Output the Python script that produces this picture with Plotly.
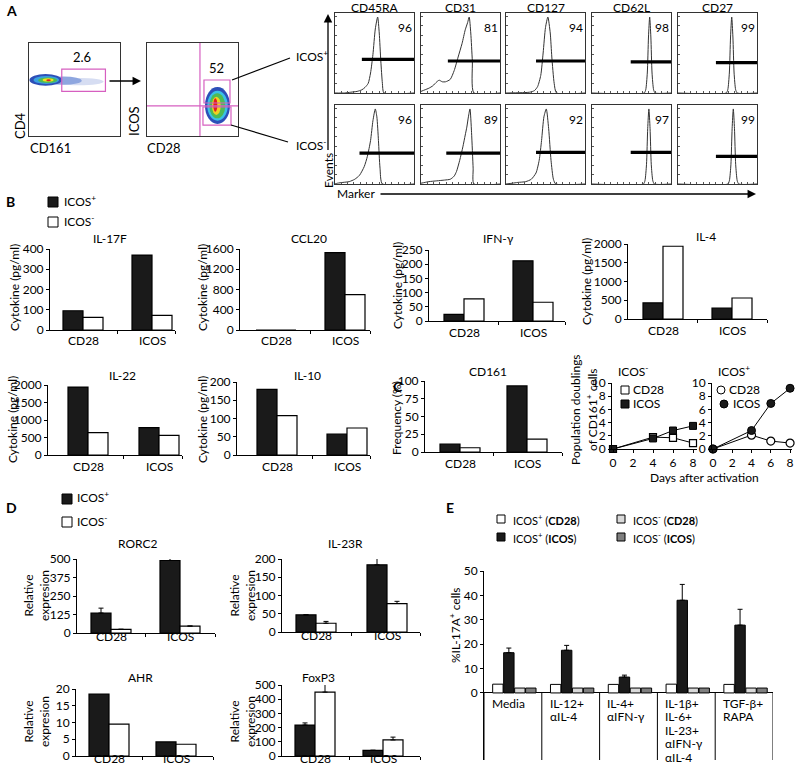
import plotly.graph_objects as go

# ======================= DATA =======================
groups = ["CD28", "ICOS"]

# Panel A: flow histograms (marker name, % positive, gate starts/levels, curve points in % of box)
hist_markers = ["CD45RA", "CD31", "CD127", "CD62L", "CD27"]
hist_pct_pos = [96, 81, 94, 98, 99]
hist_pct_neg = [96, 89, 92, 97, 99]
gate_start_pos = [34, 34, 38, 49, 48]
gate_start_neg = [31, 32, 38, 49, 48]
gate_level_pos = [42, 40, 40, 39, 38]
gate_level_neg = [39, 39, 40, 40, 35]

hist_pos_x = [
    [0, 12, 20, 28, 34, 38, 42, 45, 48, 51, 54, 56, 58, 60, 62, 100],
    [0, 5, 10, 15, 20, 23, 27, 31, 37, 42, 47, 52, 56, 59, 61, 63, 65, 67, 100],
    [0, 30, 36, 40, 44, 47, 50, 53, 56, 58, 61, 64, 100],
    [0, 66, 68, 70, 71.5, 73, 74.5, 76, 78, 80, 100],
    [0, 61, 63, 65, 66.5, 68, 69.5, 71, 73, 75, 100],
]
hist_pos_y = [
    [0, 0, 1, 2, 4, 7, 12, 25, 48, 80, 95, 75, 40, 12, 0, 0],
    [2, 4, 6, 9, 14, 16, 14, 14, 17, 28, 45, 62, 79, 88, 95, 75, 40, 0, 0],
    [0, 1, 3, 8, 22, 50, 82, 95, 75, 45, 12, 0, 0],
    [0, 0, 4, 25, 70, 95, 70, 25, 4, 0, 0],
    [0, 0, 4, 25, 70, 95, 70, 25, 4, 0, 0],
]
hist_neg_x = [
    [0, 3, 10, 18, 25, 31, 37, 41, 45, 48, 51, 53, 55, 57, 60, 100],
    [0, 5, 10, 20, 30, 37, 42, 45, 49, 53, 56, 58, 60, 62, 64, 66, 67, 100],
    [0, 8, 15, 25, 32, 38, 42, 45, 48, 51, 54, 57, 60, 63, 100],
    [0, 65, 67, 69, 70.5, 72, 73.5, 75, 77, 79, 100],
    [0, 63, 65, 67, 68.5, 70, 71.5, 73, 75, 77, 100],
]
hist_neg_y = [
    [0, 1, 2, 3, 6, 11, 22, 35, 55, 80, 95, 85, 55, 20, 0, 0],
    [1, 2, 3, 4, 5, 6, 10, 16, 30, 47, 62, 72, 85, 95, 65, 20, 0, 0],
    [0, 1, 2, 3, 6, 14, 30, 55, 85, 95, 70, 30, 6, 0, 0],
    [0, 0, 4, 25, 70, 95, 70, 25, 4, 0, 0],
    [0, 0, 4, 25, 70, 95, 70, 25, 4, 0, 0],
]

# Flow density layers (data units 0-100): x0, x1, y0, y1, colour
flow1_x0 = [28, 18, 0.5, 5, 10, 15, 19]
flow1_x1 = [82, 58, 36, 33, 31, 27, 24]
flow1_y0 = [54.5, 55, 54, 56, 57, 58.5, 59]
flow1_y1 = [62.5, 64, 66.7, 64.5, 63, 62, 61]
flow1_col = ["#d6ddf2", "#8ea6df", "#2d4fb8", "#3aa0e0", "#4dbb55", "#f0e020", "#e02020"]
flow1_gate = [36, 84, 48, 72]
flow1_pct = "2.6"

flow2_x0 = [63.7, 66.3, 68.5, 71.4, 72.9]
flow2_x1 = [91.2, 88.7, 86.0, 81.0, 77.3]
flow2_y0 = [12.9, 16.5, 19.0, 22.6, 26.2]
flow2_y1 = [52.7, 48.7, 45.9, 42.3, 40.5]
flow2_col = ["#2d4fb8", "#3ac0e8", "#4dbb55", "#f0d020", "#e02020"]
flow2_vline = 58.2
flow2_hline = 32.3
flow2_gate_pos = [62.6, 91.2, 35.5, 60.2]
flow2_gate_neg = [61.5, 92.3, 11.8, 31.2]
flow2_pct = "52"

# Panel B cytokines (ICOS+ black, ICOS- white)
il17f_pos, il17f_neg = [95, 370], [62, 72]
ccl20_pos, ccl20_neg = [0, 1530], [0, 700]
ifng_pos, ifng_neg = [23, 212], [78, 66]
il4_pos, il4_neg = [430, 290], [1940, 560]
il22_pos, il22_neg = [1940, 780], [640, 560]
il10_pos, il10_neg = [180, 57], [108, 74]

# Panel C
cd161_pos, cd161_neg = [11, 93], [6, 18]
days = [0, 4, 6, 8]
dbl_neg_cd28 = [0, 1.8, 1.7, 0.9]
dbl_neg_icos = [0, 1.6, 2.8, 3.5]
dbl_pos_cd28 = [0, 2.1, 1.2, 0.9]
dbl_pos_icos = [0, 2.8, 6.9, 9.2]

# Panel D
rorc2_pos, rorc2_neg = [135, 490], [25, 47]
rorc2_pos_err, rorc2_neg_err = [33, 15], [0, 0]
il23r_pos, il23r_neg = [47, 184], [24, 78]
il23r_pos_err, il23r_neg_err = [0, 25], [5, 6]
ahr_pos, ahr_neg = [18.5, 4.2], [9.5, 3.5]
foxp3_pos, foxp3_neg = [218, 40], [450, 113]
foxp3_pos_err, foxp3_neg_err = [15, 0], [60, 20]

# Panel E
e_conditions = ["Media", "IL-12+<br>αIL-4", "IL-4+<br>αIFN-γ",
                "IL-1β+<br>IL-6+<br>IL-23+<br>αIFN-γ<br>αIL-4", "TGF-β+<br>RAPA"]
e_pos_cd28 = [3.6, 3.5, 3.5, 3.6, 3.5]
e_pos_icos = [16.5, 17.5, 6.5, 38.0, 27.8]
e_pos_icos_err = [1.9, 2.0, 0.8, 6.5, 6.5]
e_neg_cd28 = [2.0, 2.0, 2.0, 2.0, 2.0]
e_neg_icos = [2.0, 2.0, 2.0, 2.0, 2.0]

# ======================= LAYOUT HELPERS =======================
W, H = 800, 775
FONT = "Lato"
BLACK = "#1a1a1a"

def X(px):
    return px / W

def Y(py):
    return 1 - py / H

fig = go.Figure()
axes = {}
annots = []
shapes = []
count = [0]


def new_axes(x0, x1, ytop, ybot, xkw, ykw):
    count[0] += 1
    n = count[0]
    s = "" if n == 1 else str(n)
    xa = dict(domain=[X(x0), X(x1)], anchor="y" + s, automargin=False,
              showgrid=False, zeroline=False, fixedrange=True)
    xa.update(xkw)
    ya = dict(domain=[Y(ybot), Y(ytop)], anchor="x" + s, automargin=False,
              showgrid=False, zeroline=False, fixedrange=True)
    ya.update(ykw)
    axes["xaxis" + s] = xa
    axes["yaxis" + s] = ya
    return "x" + s, "y" + s


def text(px, py, s, size=12, angle=0, xanchor="center", yanchor="middle", bold=False):
    if bold:
        s = "<b>" + s + "</b>"
    annots.append(dict(x=X(px), y=Y(py), xref="paper", yref="paper", text=s,
                       showarrow=False, textangle=angle, xanchor=xanchor, yanchor=yanchor,
                       font=dict(size=size, family=FONT, color="black")))


def pline(x0, y0, x1, y1, width=1.2):
    shapes.append(dict(type="line", xref="paper", yref="paper", x0=X(x0), y0=Y(y0),
                       x1=X(x1), y1=Y(y1), line=dict(color="black", width=width)))


def prect(x0, y0, x1, y1, fill, line="black"):
    shapes.append(dict(type="rect", xref="paper", yref="paper", x0=X(x0), y0=Y(y0),
                       x1=X(x1), y1=Y(y1), fillcolor=fill, line=dict(color=line, width=1)))


def pcircle(cx, cy, r, fill):
    shapes.append(dict(type="circle", xref="paper", yref="paper", x0=X(cx - r), y0=Y(cy + r),
                       x1=X(cx + r), y1=Y(cy - r), fillcolor=fill, line=dict(color="black", width=1)))


def arrow(hx, hy, tx, ty):
    annots.append(dict(x=X(hx), y=Y(hy), xref="paper", yref="paper", ax=tx - hx, ay=ty - hy,
                       axref="pixel", ayref="pixel", text=" ", showarrow=True, arrowhead=2,
                       arrowsize=1.3, arrowwidth=1.3, arrowcolor="black",
                       font=dict(size=1)))


# ======================= PANEL A =======================
text(4, 11, "A", size=14, xanchor="left", bold=True)

box_axis = dict(range=[0, 100], showline=True, mirror=True, linecolor="#333", linewidth=1,
                showticklabels=False, ticks="")

# flow plot 1
fx, fy = new_axes(29, 120, 43, 136, dict(box_axis), dict(box_axis))
for i in range(len(flow1_col)):
    shapes.append(dict(type="circle", xref=fx, yref=fy, x0=flow1_x0[i], x1=flow1_x1[i],
                       y0=flow1_y0[i], y1=flow1_y1[i], fillcolor=flow1_col[i],
                       line=dict(width=0), layer="above"))
shapes.append(dict(type="rect", xref=fx, yref=fy, x0=flow1_gate[0], x1=flow1_gate[1],
                   y0=flow1_gate[2], y1=flow1_gate[3], line=dict(color="#d65fc0", width=1.2),
                   layer="above"))
annots.append(dict(x=(flow1_gate[0] + flow1_gate[1]) / 2 - 2, y=flow1_gate[3] + 2, xref=fx, yref=fy,
                   text=flow1_pct, showarrow=False, yanchor="bottom",
                   font=dict(size=13, family=FONT, color="black")))
text(20, 126, "CD4", size=13, angle=-90)
text(28, 148, "CD161", size=13, xanchor="left")
arrow(141, 81, 108, 81)

# flow plot 2
fx2, fy2 = new_axes(147, 238, 43, 136, dict(box_axis), dict(box_axis))
for i in range(len(flow2_col)):
    shapes.append(dict(type="circle", xref=fx2, yref=fy2, x0=flow2_x0[i], x1=flow2_x1[i],
                       y0=flow2_y0[i], y1=flow2_y1[i], fillcolor=flow2_col[i],
                       line=dict(width=0), layer="above"))
shapes.append(dict(type="line", xref=fx2, yref=fy2, x0=flow2_vline, x1=flow2_vline, y0=0, y1=100,
                   line=dict(color="#d65fc0", width=1.2), layer="above"))
shapes.append(dict(type="line", xref=fx2, yref=fy2, x0=0, x1=100, y0=flow2_hline, y1=flow2_hline,
                   line=dict(color="#d65fc0", width=1.2), layer="above"))
for g in (flow2_gate_pos, flow2_gate_neg):
    shapes.append(dict(type="rect", xref=fx2, yref=fy2, x0=g[0], x1=g[1], y0=g[2], y1=g[3],
                       line=dict(color="#d65fc0", width=1.2), layer="above"))
annots.append(dict(x=(flow2_gate_pos[0] + flow2_gate_pos[1]) / 2, y=flow2_gate_pos[3] + 2,
                   xref=fx2, yref=fy2, text=flow2_pct, showarrow=False, yanchor="bottom",
                   font=dict(size=13, family=FONT, color="black")))
text(134, 121, "ICOS", size=13, angle=-90)
text(145, 148, "CD28", size=13, xanchor="left")

pline(232, 80, 290, 58)
pline(231, 125, 288, 142)
text(294, 56, "ICOS<sup>+</sup>", size=12, xanchor="left")
text(294, 145, "ICOS<sup>-</sup>", size=12, xanchor="left")

# histograms
hist_cols = [335, 421, 506, 592, 678]
hist_w = 79
rows = [(13, 93), (105, 184)]
hist_axis_x = dict(range=[0, 100], showline=True, mirror=True, linecolor="#333", linewidth=1,
                   showticklabels=False, ticks="inside", ticklen=2, tickcolor="#555",
                   tickvals=[8, 16, 24, 32, 40, 48, 56, 64, 72, 80, 88, 96])
hist_axis_y = dict(range=[0, 100], showline=True, mirror=True, linecolor="#333", linewidth=1,
                   showticklabels=False, ticks="inside", ticklen=2, tickcolor="#555",
                   tickvals=[12, 24, 36, 48, 60, 72, 84, 96])
for r, (top, bot) in enumerate(rows):
    xs = hist_pos_x if r == 0 else hist_neg_x
    ys = hist_pos_y if r == 0 else hist_neg_y
    gs = gate_start_pos if r == 0 else gate_start_neg
    gl = gate_level_pos if r == 0 else gate_level_neg
    pc = hist_pct_pos if r == 0 else hist_pct_neg
    for i in range(5):
        hx, hy = new_axes(hist_cols[i], hist_cols[i] + hist_w, top, bot,
                          dict(hist_axis_x), dict(hist_axis_y))
        fig.add_trace(go.Scatter(x=xs[i], y=ys[i], mode="lines", line=dict(color="#333", width=1,
                                 shape="spline", smoothing=0.6), xaxis=hx, yaxis=hy,
                                 showlegend=False, hoverinfo="skip"))
        fig.add_trace(go.Scatter(x=[gs[i], 100], y=[gl[i], gl[i]], mode="lines",
                                 line=dict(color="black", width=3.2), xaxis=hx, yaxis=hy,
                                 showlegend=False, hoverinfo="skip"))
        annots.append(dict(x=88, y=82, xref=hx, yref=hy, text=str(pc[i]), showarrow=False,
                           font=dict(size=12, family=FONT, color="black")))
        if r == 0:
            text(hist_cols[i] + hist_w / 2, 7, hist_markers[i], size=12)

arrow(328, 14, 328, 152)
text(328, 171, "Events", size=12, angle=-90)
text(335, 194, "Marker", size=12, xanchor="left")
arrow(756, 194, 379, 194)

# ======================= BAR HELPER =======================

def bar_chart(title, pos, neg, axis_px, c0, u, end_px, ytop, ybot, ymax, dtick,
              pos_err=None, neg_err=None, title_x=None, title_y=None, label_dy=11):
    r0 = (axis_px - c0) / u
    r1 = (end_px - c0) / u
    bw = 20.0 / u
    xr, yr = new_axes(axis_px, end_px, ytop, ybot,
                      dict(range=[r0, r1], tickvals=[0.5, r1], ticks="outside", ticklen=3,
                           tickcolor="black", showticklabels=False,
                           showline=True, linecolor="black", linewidth=1),
                      dict(range=[0, ymax], tickvals=list(range(0, ymax + 1, dtick)),
                           ticks="outside", ticklen=3, tickcolor="black", showline=True,
                           linecolor="black", linewidth=1,
                           tickfont=dict(size=12, family=FONT, color="black")))
    for vals, err, col, off in ((pos, pos_err, BLACK, -bw), (neg, neg_err, "white", 0)):
        kw = {}
        if err is not None:
            kw["error_y"] = dict(type="data", array=err, arrayminus=[0] * len(err),
                                 symmetric=False, color="black", thickness=1, width=2.5)
        fig.add_trace(go.Bar(x=[0, 1], y=vals, width=bw, offset=off,
                             marker=dict(color=col, line=dict(color="black", width=1.2)),
                             xaxis=xr, yaxis=yr, showlegend=False, cliponaxis=False,
                             hoverinfo="skip", **kw))
    for k, g in enumerate(groups):
        annots.append(dict(x=k, xref=xr, y=Y(ybot + label_dy), yref="paper", text=g,
                           showarrow=False, font=dict(size=12, family=FONT, color="black")))
    tx = title_x if title_x is not None else c0 + u / 2
    text(tx, (title_y if title_y else ytop - 11), title, size=12)
    return xr, yr


# ======================= PANEL B =======================
text(4, 202, "B", size=14, xanchor="left", bold=True)
prect(48, 197, 58, 207, BLACK)
text(62, 201, "ICOS<sup>+</sup>", size=12, xanchor="left")
prect(48, 217, 58, 227, "white")
text(62, 221, "ICOS<sup>-</sup>", size=12, xanchor="left")

bar_chart("IL-17F", il17f_pos, il17f_neg, 50, 83, 69, 175, 249, 330, 400, 100,
          title_x=110, title_y=238)
bar_chart("CCL20", ccl20_pos, ccl20_neg, 240, 276, 69, 370, 249, 330, 1600, 400,
          title_x=309, title_y=238)
bar_chart("IFN-γ", ifng_pos, ifng_neg, 429, 464, 69, 565, 250, 321, 250, 50,
          title_x=498, title_y=238)
bar_chart("IL-4", il4_pos, il4_neg, 628, 663, 69, 767, 244, 319, 2000, 500,
          title_x=706, title_y=237)
text(14, 288, "Cytokine (pg/ml)", size=12, angle=-90)
text(202, 288, "Cytokine (pg/ml)", size=12, angle=-90)
text(397, 286, "Cytokine (pg/ml)", size=12, angle=-90)
text(586, 282, "Cytokine (pg/ml)", size=12, angle=-90)

bar_chart("IL-22", il22_pos, il22_neg, 48, 88, 71, 182, 385, 455, 2000, 500,
          title_x=122, title_y=375)
bar_chart("IL-10", il10_pos, il10_neg, 237, 277, 70, 370, 382, 455, 200, 50,
          title_x=307, title_y=375)
text(12, 420, "Cytokine (pg/ml)", size=12, angle=-90)
text(202, 420, "Cytokine (pg/ml)", size=12, angle=-90)

# ======================= PANEL C =======================
text(391, 386, "C", size=14, xanchor="left", bold=True)
bar_chart("CD161", cd161_pos, cd161_neg, 425, 460, 67, 562, 381, 452, 100, 25,
          title_x=488, title_y=371)
text(397, 418, "Frequency (%)", size=12, angle=-90)

line_x = dict(tickvals=[0, 2, 4, 6, 8], ticks="outside", ticklen=3, tickcolor="black",
              showline=True, linecolor="black", linewidth=1,
              tickfont=dict(size=12, family=FONT, color="black"))
line_y = dict(range=[0, 10], tickvals=[0, 2, 4, 6, 8, 10], ticks="outside", ticklen=3,
              tickcolor="black", showline=True, linecolor="black", linewidth=1,
              tickfont=dict(size=12, family=FONT, color="black"))
lx1, ly1 = new_axes(612, 697, 383, 449, dict(line_x, range=[-0.1, 8.4]), dict(line_y))
fig.add_trace(go.Scatter(x=days, y=dbl_neg_cd28, mode="lines+markers", xaxis=lx1, yaxis=ly1,
                         line=dict(color="black", width=1), cliponaxis=False,
                         marker=dict(symbol="square", size=7, color="white",
                                     line=dict(color="black", width=1.2)),
                         showlegend=False, hoverinfo="skip"))
fig.add_trace(go.Scatter(x=days, y=dbl_neg_icos, mode="lines+markers", xaxis=lx1, yaxis=ly1,
                         line=dict(color="black", width=1), cliponaxis=False,
                         marker=dict(symbol="square", size=7, color=BLACK,
                                     line=dict(color="black", width=1)),
                         showlegend=False, hoverinfo="skip"))
lx2, ly2 = new_axes(712, 792, 383, 449, dict(line_x, range=[-0.1, 8.2]), dict(line_y))
fig.add_trace(go.Scatter(x=days, y=dbl_pos_cd28, mode="lines+markers", xaxis=lx2, yaxis=ly2,
                         line=dict(color="black", width=1), cliponaxis=False,
                         marker=dict(symbol="circle", size=8, color="white",
                                     line=dict(color="black", width=1.2)),
                         showlegend=False, hoverinfo="skip"))
fig.add_trace(go.Scatter(x=days, y=dbl_pos_icos, mode="lines+markers", xaxis=lx2, yaxis=ly2,
                         line=dict(color="black", width=1), cliponaxis=False,
                         marker=dict(symbol="circle", size=8, color=BLACK,
                                     line=dict(color="black", width=1)),
                         showlegend=False, hoverinfo="skip"))
text(616, 371, "ICOS<sup>-</sup>", size=12, xanchor="left")
text(716, 371, "ICOS<sup>+</sup>", size=12, xanchor="left")
prect(621, 386, 629, 394, "white")
text(631, 390, "CD28", size=12, xanchor="left")
prect(621, 400, 629, 408, BLACK)
text(631, 404, "ICOS", size=12, xanchor="left")
pcircle(721, 390, 4, "white")
text(727, 390, "CD28", size=12, xanchor="left")
pcircle(724, 404, 4, BLACK)
text(731, 404, "ICOS", size=12, xanchor="left")
text(575, 410, "Population doublings", size=12, angle=-90)
text(592, 410, "of CD161<sup>+</sup> cells", size=12, angle=-90)
text(704, 477, "Days after activation", size=12)

# ======================= PANEL D =======================
text(4, 507, "D", size=14, xanchor="left", bold=True)
prect(62, 494, 72, 504, BLACK)
text(75, 497, "ICOS<sup>+</sup>", size=12, xanchor="left")
prect(62, 517, 72, 527, "white")
text(75, 521, "ICOS<sup>-</sup>", size=12, xanchor="left")

bar_chart("RORC2", rorc2_pos, rorc2_neg, 77, 111, 69, 215, 559, 633, 500, 125,
          rorc2_pos_err, rorc2_neg_err, title_x=137, title_y=543, label_dy=13)
bar_chart("IL-23R", il23r_pos, il23r_neg, 282, 316, 71, 420, 559, 632, 200, 50,
          il23r_pos_err, il23r_neg_err, title_x=345, title_y=543, label_dy=13)
bar_chart("AHR", ahr_pos, ahr_neg, 76, 109, 67, 213, 689, 756, 20, 5,
          title_x=140, title_y=677, label_dy=12)
bar_chart("FoxP3", foxp3_pos, foxp3_neg, 282, 315, 68, 420, 685, 756, 500, 100,
          foxp3_pos_err, foxp3_neg_err, title_x=318, title_y=677, label_dy=12)
for (xx, yy) in ((36, 596), (242, 596), (36, 722), (242, 722)):
    text(xx, yy, "Relative<br>expresion", size=12, angle=-90)

# ======================= PANEL E =======================
text(444, 507, "E", size=14, xanchor="left", bold=True)
e_leg = [(497, 519, "white", "ICOS<sup>+</sup> (<b>CD28</b>)"),
         (497, 537, BLACK, "ICOS<sup>+</sup> (<b>ICOS</b>)"),
         (617, 519, "#d9d9d9", "ICOS<sup>-</sup> (<b>CD28</b>)"),
         (617, 537, "#7f7f7f", "ICOS<sup>-</sup> (<b>ICOS</b>)")]
for (lx, ly, col, lab) in e_leg:
    prect(lx, ly - 4, lx + 8, ly + 4, col)
    text(lx + 14, ly, lab, size=11, xanchor="left")

ex, ey = new_axes(484, 773, 571, 760,
                  dict(range=[-0.5, 4.5], showticklabels=False, ticks="", showline=False),
                  dict(range=[-27.5, 50], tickvals=[0, 10, 20, 30, 40, 50], ticks="outside",
                       ticklen=3, tickcolor="black", showline=True, linecolor="black",
                       linewidth=1, zeroline=True, zerolinecolor="black", zerolinewidth=1,
                       tickfont=dict(size=12, family=FONT, color="black")))
e_x = list(range(len(e_conditions)))
ebw = 0.18
e_series = [(e_pos_cd28, "white", -0.35, None), (e_pos_icos, BLACK, -0.16, e_pos_icos_err),
            (e_neg_cd28, "#d9d9d9", 0.03, None), (e_neg_icos, "#7f7f7f", 0.22, None)]
for vals, col, off, err in e_series:
    kw = {}
    if err is not None:
        kw["error_y"] = dict(type="data", array=err, arrayminus=[0] * len(err), symmetric=False,
                             color="black", thickness=1, width=2.5)
    fig.add_trace(go.Bar(x=e_x, y=vals, width=ebw, offset=off, xaxis=ex, yaxis=ey,
                         marker=dict(color=col, line=dict(color="black", width=1)),
                         showlegend=False, hoverinfo="skip", cliponaxis=False, **kw))
for i in range(len(e_conditions) + 1):
    shapes.append(dict(type="line", xref=ex, yref=ey, x0=i - 0.5, x1=i - 0.5, y0=-27.5, y1=0,
                       line=dict(color="black", width=1)))
for i, cond in enumerate(e_conditions):
    for k, ln in enumerate(cond.split("<br>")):
        annots.append(dict(x=i - 0.5 + 0.1, y=Y(703 + 13.5 * k), xref=ex, yref="paper",
                           text=ln, showarrow=False, xanchor="left", yanchor="middle",
                           font=dict(size=12, family=FONT, color="black")))
text(455, 625, "%IL-17A<sup>+</sup> cells", size=12, angle=-90)

# ======================= FINAL =======================
fig.update_layout(width=W, height=H, margin=dict(l=0, r=0, t=0, b=0),
                  paper_bgcolor="white", plot_bgcolor="white", barmode="overlay",
                  font=dict(family=FONT, size=12, color="black"),
                  annotations=annots, shapes=shapes, showlegend=False, **axes)
fig.write_html("out.html", config=dict(displayModeBar=False, staticPlot=True),
               post_script="document.body.style.margin='0px';document.body.style.overflow='hidden';")
